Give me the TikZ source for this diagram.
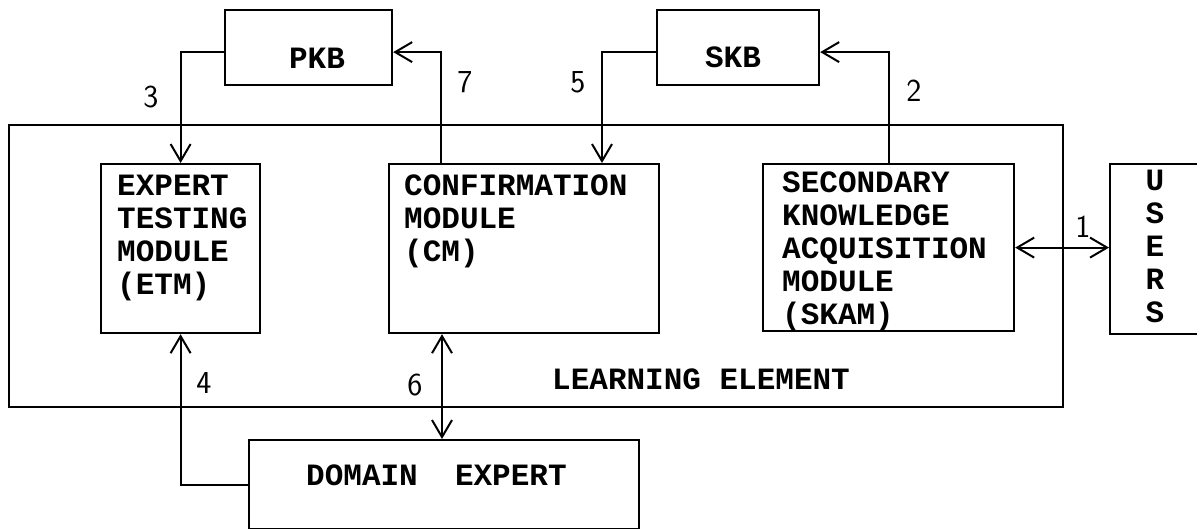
\documentclass[tikz,border=0pt]{standalone}
\usepackage{fontspec}
\setmonofont{Liberation Mono}
\usetikzlibrary{arrows.meta}
\begin{document}
\begin{tikzpicture}[x=1pt,y=-1pt,
  box/.style={draw, line width=2.2pt, inner sep=0pt, anchor=north west},
  txt/.style={font=\fontsize{31}{33}\selectfont\ttfamily\bfseries, inner sep=0pt},
  num/.style={font=\fontsize{32}{32}\selectfont\sffamily, inner sep=0pt},
  conn/.style={line width=2.2pt},
  barb/.tip={Straight Barb[length=17pt,width=20pt,line width=2pt]},
  arr/.style={conn,-barb},
  arr2/.style={conn,barb-barb}]
\useasboundingbox (0,0) rectangle (1197,528);

% boxes
\node[box, minimum width=1054pt, minimum height=282pt] (le) at (8,124) {};
\node[box, minimum width=167pt, minimum height=75pt] (pkb) at (224,9) {};
\node[box, minimum width=162pt, minimum height=75pt] (skb) at (656,9) {};
\node[box, minimum width=159pt, minimum height=169pt] (etm) at (100,163) {};
\node[box, minimum width=270pt, minimum height=169pt] (cm) at (388,163) {};
\node[box, minimum width=251pt, minimum height=167pt] (skam) at (762,163) {};
\node[box, minimum width=100pt, minimum height=170pt] (users) at (1109,163) {};
\node[box, minimum width=390pt, minimum height=89pt] (de) at (248,439) {};

% texts
\node[txt, anchor=base] (pkbt) at (317,68) {PKB};
\node[txt, anchor=base] (skbt) at (733,67) {SKB};
\node[txt, anchor=base west] (etmt) at (117,195)
  {\begin{tabular}[t]{@{}l@{}}EXPERT\\TESTING\\MODULE\\(ETM)\end{tabular}};
\node[txt, anchor=base west] (cmt) at (404,195)
  {\begin{tabular}[t]{@{}l@{}}CONFIRMATION\\MODULE\\(CM)\end{tabular}};
\node[txt, anchor=base west] (skamt) at (782,192)
  {\begin{tabular}[t]{@{}l@{}}SECONDARY\\KNOWLEDGE\\ACQUISITION\\MODULE\\(SKAM)\end{tabular}};
\node[txt, anchor=base] (userst) at (1155,190)
  {\begin{tabular}[t]{@{}c@{}}U\\S\\E\\R\\S\end{tabular}};
\node[txt, anchor=base west] (let) at (552,389) {LEARNING ELEMENT};
\node[txt, anchor=base west] (det) at (306,485) {DOMAIN\ \ EXPERT};

% connectors
\coordinate (c7) at ([xshift=53pt]cm.north west);
\coordinate (c5) at ([xshift=214pt]cm.north west);
\coordinate (c6) at ([xshift=54pt]cm.south west);
\draw[arr] ([yshift=-4.5pt]pkb.west) -| (etm.north);
\draw[arr] (c7) |- ([yshift=-4.5pt]pkb.east);
\draw[arr] ([yshift=-4.5pt]skb.west) -| (c5);
\draw[arr] (skam.north) |- ([yshift=-4.5pt]skb.east);
\draw[arr2] (skam.east) -- (skam.east -| users.west);
\draw[arr] (de.west) -| (etm.south);
\draw[arr2] (c6) -- (c6 |- de.north);

% connector labels
\node[num] (n3) at (151,97) {3};
\node[num] (n7) at (465,82) {7};
\node[num] (n5) at (578,82) {5};
\node[num] (n2) at (914,91) {2};
\node[num] (n4) at (204,383) {4};
\node[num] (n6) at (415,385) {6};
\node[num] (n1) at (1083,227) {1};
\end{tikzpicture}
\end{document}
